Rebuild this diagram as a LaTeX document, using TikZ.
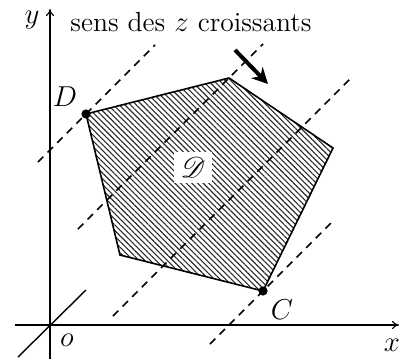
\documentclass[tikz,border=0pt]{standalone}
\usepackage{amsmath, amssymb}
\usepackage{mathrsfs}
\usetikzlibrary{arrows.meta, patterns.meta, calc}
\definecolor{hatch-gray}{HTML}{2A2A2A}

\begin{document}
\begin{tikzpicture}[x=0.5pt, y=0.5pt,
      every node/.style={font=\fontsize{13.8}{16}\selectfont},
      axis/.style={line width=0.55pt, -{To[length=3.5pt, width=4pt]}},
      levelline/.style={dash pattern=on 3.8pt off 3pt, line width=0.85pt},
      vertexdot/.style={circle, fill=black, inner sep=0pt, minimum size=4.6pt}]
    \useasboundingbox (-50,-34) rectangle (350,325);
    % axes
    \coordinate (O) at (0,0);
    \draw[axis] (-35,0) -- (349,0) coordinate (xtip);
    \draw[axis] (0,-34) -- (0,316) coordinate (ytip);
    \draw[line width=0.7pt] (-32,-32) -- (36,35);
    % the domain
    \coordinate (D) at (36,211);
    \coordinate (T) at (179,247);
    \coordinate (R) at (283,177);
    \coordinate (C) at (213,34);
    \coordinate (B) at (70,70);
    \draw[line width=0.8pt, pattern={Lines[angle=-45, distance=2pt, line width=0.55pt]},
          pattern color=hatch-gray]
          (D) -- (T) -- (R) -- (C) -- (B) -- cycle;
    % level lines
    \draw[levelline] ($(D)+(-48,-48)$) -- ($(D)+(69,69)$);
    \draw[levelline] ($(T)+(-151,-151)$) -- ($(T)+(34,34)$);
    \draw[levelline] (63,9) -- (302,248);
    \draw[levelline] ($(C)+(-53,-53)$) -- ($(C)+(72,72)$);
    \node[vertexdot] (Ddot) at (D) {};
    \node[vertexdot] (Cdot) at (C) {};
    \node[fill=white, inner sep=0pt, minimum width=19pt, minimum height=15.5pt]
          (dom) at (143,158) {$\mathscr{D}$};
    % direction of increasing z
    \coordinate (dirA) at (185,275);
    \coordinate (dirB) at (218,241);
    \draw[line width=2pt, -{Stealth[length=8pt, width=8pt]}] (dirA) -- (dirB);
    % labels
    \node (sens) at (141,303) {sens des $z$ croissants};
    \node (ylab) at (-18,305) {$y$};
    \node (xlab) at (342,-20) {$x$};
    \node (olab) at (17,-15) {$o$};
    \node (Dlab) at (15,228) {$D$};
    \node (Clab) at (232,15) {$C$};
\end{tikzpicture}
\end{document}
